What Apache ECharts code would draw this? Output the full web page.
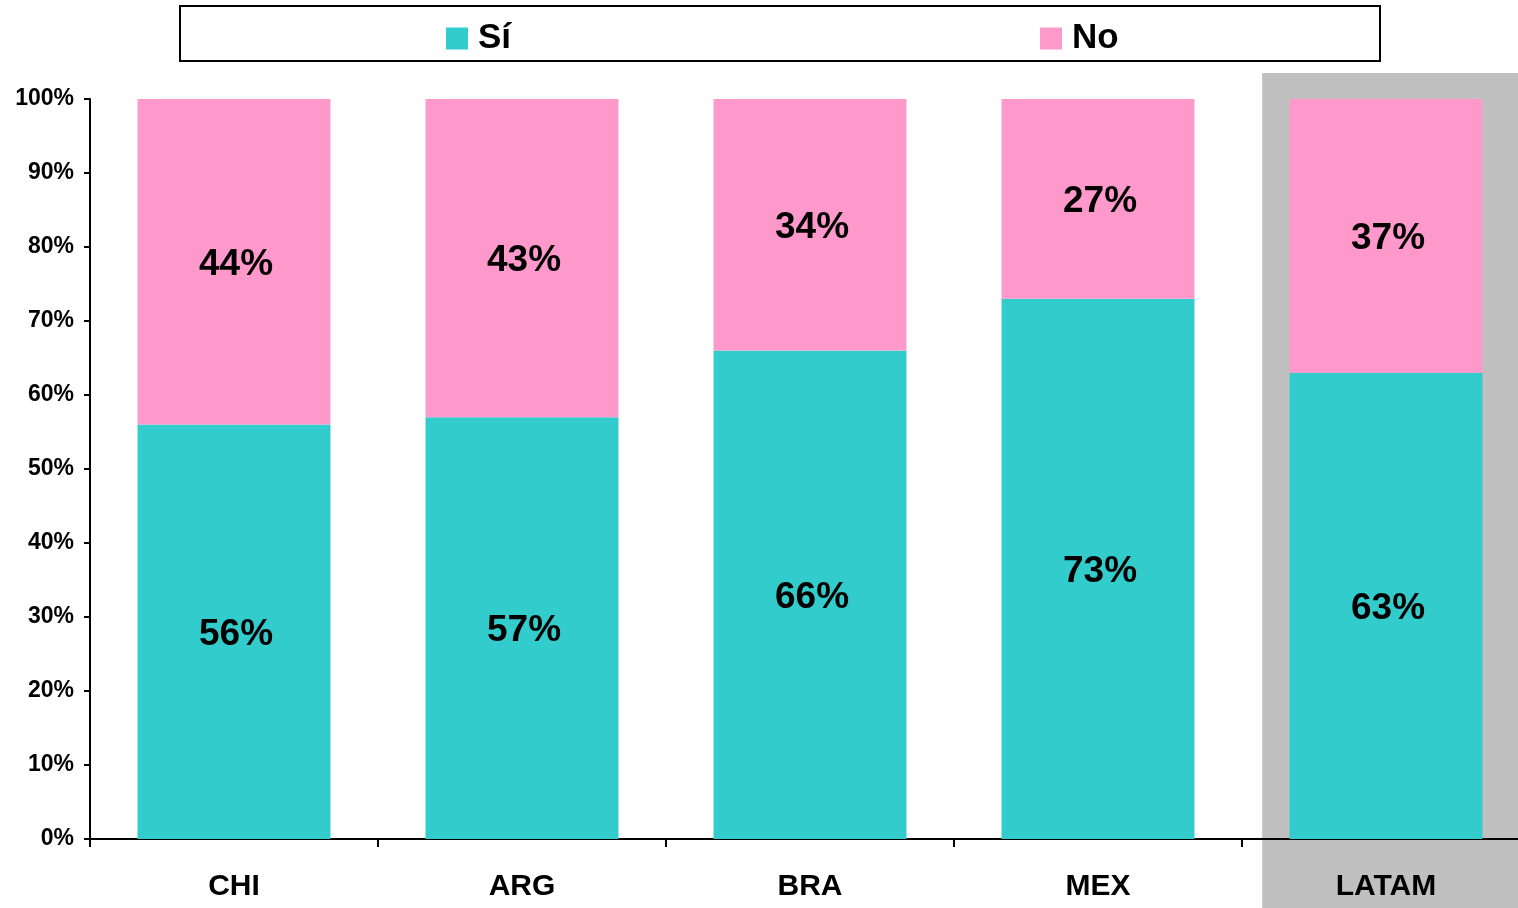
<!DOCTYPE html>
<html>
<head>
<meta charset="utf-8">
<script src="https://cdn.jsdelivr.net/npm/echarts@6/dist/echarts.min.js"></script>
<style>html,body{margin:0;padding:0;background:#fff;overflow:hidden;width:1518px;height:908px}#c{width:1530px;height:908px}</style>
</head>
<body>
<div id="c"></div>
<script>
const categories = ['CHI', 'ARG', 'BRA', 'MEX', 'LATAM'];
const siValues = [56, 57, 66, 73, 63];
const noValues = [44, 43, 34, 27, 37];
const seriesNames = ['Sí', 'No'];
const yTicks = [0, 10, 20, 30, 40, 50, 60, 70, 80, 90, 100];

const FONT = '"Liberation Sans", Arial, sans-serif';
const chart = echarts.init(document.getElementById('c'));
const labelStyle = {
  show: true, position: 'inside', formatter: '{c}%', offset: [2, 3],
  color: '#000', fontFamily: FONT, fontWeight: 'bold', fontSize: 37
};
const legendText = { color: '#000', fontFamily: FONT, fontWeight: 'bold', fontSize: 35, padding: [0, 0, 0, 5] };
chart.setOption({
  animation: false,
  grid: { left: 90, top: 99, right: 0, bottom: 69, containLabel: false },
  legend: [
    { data: [seriesNames[0]], left: 446, top: 21, itemWidth: 22, itemHeight: 22, icon: 'rect', textStyle: legendText, padding: 0 },
    { data: [seriesNames[1]], left: 1040, top: 21, itemWidth: 22, itemHeight: 22, icon: 'rect', textStyle: legendText, padding: 0 }
  ],
  xAxis: {
    type: 'category', data: categories,
    axisLine: { lineStyle: { color: '#000', width: 2 } },
    axisTick: { show: true, length: 8, lineStyle: { color: '#000', width: 2 } },
    axisLabel: { color: '#000', fontFamily: FONT, fontWeight: 'bold', fontSize: 30, margin: 33 }
  },
  yAxis: {
    type: 'value', min: yTicks[0], max: yTicks[yTicks.length - 1], interval: 10,
    axisLine: { show: true, lineStyle: { color: '#000', width: 2 } },
    axisTick: { show: true, length: 6, lineStyle: { color: '#000', width: 2 } },
    splitLine: { show: false },
    axisLabel: { color: '#000', fontFamily: FONT, fontWeight: 'bold', fontSize: 23, margin: 16, padding: [4, 0, 0, 0], formatter: '{value}%' }
  },
  series: [
    { name: seriesNames[0], type: 'bar', stack: 't', data: siValues, barWidth: '67%', itemStyle: { color: '#33CCCC' }, label: labelStyle },
    { name: seriesNames[1], type: 'bar', stack: 't', data: noValues, barWidth: '67%', itemStyle: { color: '#FF99CC' }, label: labelStyle }
  ]
});

// Decorations: legend frame and LATAM highlight band, positioned from axis scale
const lastIdx = categories.length - 1;
const cx = chart.convertToPixel({ xAxisIndex: 0 }, categories[lastIdx]);
const cx0 = chart.convertToPixel({ xAxisIndex: 0 }, categories[0]);
const cx1 = chart.convertToPixel({ xAxisIndex: 0 }, categories[1]);
const band = cx1 - cx0;
const topY = chart.convertToPixel({ yAxisIndex: 0 }, 100);
const x0 = cx - band * 0.43;
chart.setOption({
  graphic: [
    { type: 'rect', z: -1, silent: true, shape: { x: x0, y: topY - 26, width: 1530 - x0, height: 908 - (topY - 26) }, style: { fill: '#C0C0C0' } },
    { type: 'rect', z: 10, silent: true, shape: { x: 180, y: 6, width: 1200, height: 55 }, style: { fill: 'none', stroke: '#000', lineWidth: 2 } }
  ]
});
</script>
</body>
</html>
